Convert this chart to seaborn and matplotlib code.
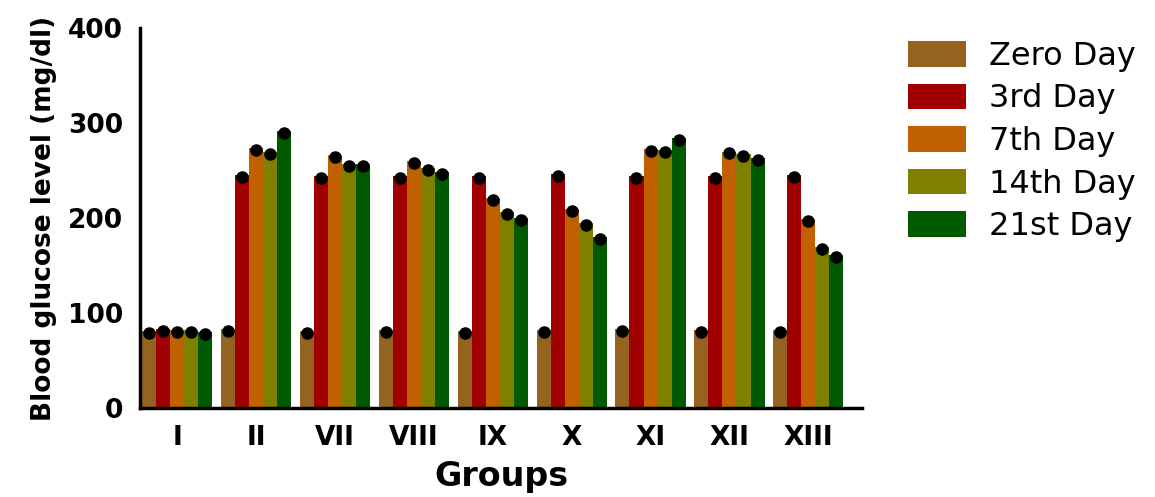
import seaborn as sns
import pandas as pd
import numpy as np
import matplotlib.pyplot as plt

groups = ["I", "II", "VII", "VIII", "IX", "X", "XI", "XII", "XIII"]
days = ["Zero Day", "3rd Day", "7th Day", "14th Day", "21st Day"]
zero_day = [81, 83, 81, 82, 81, 82, 83, 82, 82]
day3 = [83, 245, 244, 244, 244, 246, 244, 244, 245]
day7 = [82, 274, 266, 260, 221, 209, 273, 270, 199]
day14 = [82, 269, 257, 253, 206, 195, 272, 267, 169]
day21 = [80, 292, 257, 248, 200, 180, 284, 263, 161]
sem = [3, 3, 3, 3, 3]
colors = ["#94631f", "#a00000", "#c06000", "#808000", "#005a00"]

data = pd.DataFrame({
    "group": groups * 5,
    "day": np.repeat(days, len(groups)),
    "value": zero_day + day3 + day7 + day14 + day21,
})

sns.set_theme(style="white")
plt.rcParams["font.family"] = ["DejaVu Sans"]
plt.rcParams["text.color"] = "black"
plt.rcParams["axes.labelcolor"] = "black"
plt.rcParams["xtick.color"] = "black"
plt.rcParams["ytick.color"] = "black"

fig = plt.figure(figsize=(11.55, 4.97), dpi=100)
ax = fig.add_axes([140 / 1155, 1 - 408 / 497, 722 / 1155, 380 / 497])

sns.barplot(data=data, x="group", y="value", hue="day", order=groups,
            hue_order=days, palette=colors, width=0.89, errorbar=None,
            saturation=1, linewidth=0, ax=ax)

# error bars + dots on top of each bar
for cont, err in zip(ax.containers, sem):
    xs = [p.get_x() + p.get_width() / 2 for p in cont.patches]
    ys = [p.get_height() - 2 for p in cont.patches]
    ax.errorbar(xs, ys, yerr=err, fmt="o", color="black", ms=8,
                elinewidth=2.5, capsize=3, capthick=2.5, zorder=5)

ax.set_xlim(-0.47, len(groups) - 1 + 0.68)
ax.set_ylim(0, 400)
ax.set_yticks([0, 100, 200, 300, 400])
ax.set_xlabel("Groups", fontsize=24, fontweight="bold", labelpad=7)
ax.set_ylabel("Blood glucose level (mg/dl)", fontsize=19, fontweight="bold", labelpad=8)
ax.tick_params(axis="both", which="both", direction="out", length=8, width=2.5,
               color="black", labelcolor="black", labelsize=19, pad=4)
for lab in ax.get_xticklabels() + ax.get_yticklabels():
    lab.set_fontweight("bold")
sns.despine(ax=ax)
for side in ["left", "bottom"]:
    ax.spines[side].set_linewidth(2.5)
    ax.spines[side].set_color("black")

handles, labels = ax.get_legend_handles_labels()
leg = ax.legend(handles, labels, loc="upper left", bbox_to_anchor=(908 / 1155, 1 - 41 / 497),
                bbox_transform=fig.transFigure, frameon=False, fontsize=23,
                handlelength=1.8, handleheight=0.85, handletextpad=0.75,
                labelspacing=0.36, borderaxespad=0, borderpad=0)
for t in leg.get_texts():
    t.set_color("black")

fig.savefig("out.png", dpi=100)
